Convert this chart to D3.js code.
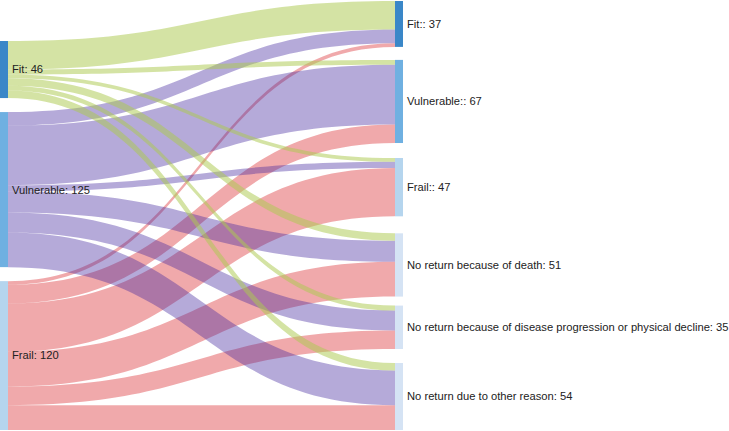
<!DOCTYPE html>
<html>
<head>
<meta charset="utf-8">
<script src="https://cdn.jsdelivr.net/npm/d3@7"></script>
<style>
  html, body { margin: 0; padding: 0; background: #fff; }
  svg { display: block; }
  text { font-family: "Liberation Sans", Arial, sans-serif; font-size: 11.2px; fill: #222; }
</style>
</head>
<body>
<svg id="chart" width="729" height="431"></svg>
<script>
// ---- data ----
const sourceNames = ["Fit", "Vulnerable", "Frail"];
const sourceTotals = [46, 125, 120];
const targetNames = ["Fit:", "Vulnerable:", "Frail:", "No return because of death",
  "No return because of disease progression or physical decline", "No return due to other reason"];
const targetTotals = [37, 67, 47, 51, 35, 54];
const fromFit = [23, 4, 3, 6, 4, 6];
const fromVulnerable = [11, 48, 5, 17, 16, 28];
const fromFrail = [3, 15, 39, 28, 15, 20];

// ---- styles / layout ----
const sourceNodeColors = ["#3a87c8", "#6fb0e1", "#b5d5ee"];
const targetNodeColors = ["#3a87c8", "#6fb0e1", "#b5d5ee", "#d5e3f4", "#d5e3f4", "#d5e3f4"];
const linkColors = ["rgba(172,202,80,0.52)", "rgba(70,42,160,0.4)", "rgba(218,40,45,0.4)"];
const gapsRight = [13, 15, 17, 9, 14];
const gapsLeft = [14, 14];

const nodeW = 8;
const leftX = 0, rightX = 395;
const yTop = 1, yBottom = 430;
const grand = d3.sum(sourceTotals);
const k = (yBottom - yTop - d3.sum(gapsRight)) / grand;
const h = d3.scaleLinear().domain([0, grand]).range([0, grand * k]);

const svg = d3.select("#chart");
const flows = [fromFit, fromVulnerable, fromFrail];

// node positions
const leftHeight = h(grand) + d3.sum(gapsLeft);
let yL = yBottom - leftHeight;
const leftNodes = sourceTotals.map((v, i) => { const n = {y0: yL, y1: yL + h(v), name: sourceNames[i], value: v, color: sourceNodeColors[i]}; yL = n.y1 + (gapsLeft[i] || 0); return n; });
let yR = yTop;
const rightNodes = targetTotals.map((v, i) => { const n = {y0: yR, y1: yR + h(v), name: targetNames[i], value: v, color: targetNodeColors[i]}; yR = n.y1 + (gapsRight[i] || 0); return n; });

// links
const links = [];
const rOffsets = rightNodes.map(n => n.y0);
flows.forEach((row, si) => {
  let sy = leftNodes[si].y0;
  row.forEach((v, ti) => {
    if (!v) return;
    const th = h(v);
    const l = {si, ti, v, sy0: sy, sy1: sy + th, ty0: rOffsets[ti], ty1: rOffsets[ti] + th};
    sy += th;
    rOffsets[ti] += th;
    links.push(l);
  });
});
const x0 = leftX + nodeW, x1 = rightX, xm = (x0 + x1) / 2;
function band(l) {
  const p = d3.path();
  p.moveTo(x0, l.sy0);
  p.bezierCurveTo(xm, l.sy0, xm, l.ty0, x1, l.ty0);
  p.lineTo(x1, l.ty1);
  p.bezierCurveTo(xm, l.ty1, xm, l.sy1, x0, l.sy1);
  p.closePath();
  return p.toString();
}
// draw Frail links first, Fit links last (on top)
const drawOrder = links.slice().sort((a, b) => b.si - a.si);
svg.append("g").selectAll("path").data(drawOrder).join("path")
  .attr("d", band)
  .attr("fill", d => linkColors[d.si]);

// nodes
svg.append("g").selectAll("rect").data(leftNodes).join("rect")
  .attr("x", leftX).attr("y", d => d.y0).attr("width", nodeW).attr("height", d => d.y1 - d.y0)
  .attr("fill", d => d.color);
svg.append("g").selectAll("rect").data(rightNodes).join("rect")
  .attr("x", rightX).attr("y", d => d.y0).attr("width", nodeW).attr("height", d => d.y1 - d.y0)
  .attr("fill", d => d.color);

// labels
svg.append("g").selectAll("text").data(leftNodes).join("text")
  .attr("x", 12).attr("y", d => (d.y0 + d.y1) / 2).attr("dy", "0.35em")
  .text(d => `${d.name}: ${d.value}`);
svg.append("g").selectAll("text").data(rightNodes).join("text")
  .attr("x", rightX + nodeW + 4).attr("y", d => (d.y0 + d.y1) / 2).attr("dy", "0.35em")
  .text(d => `${d.name}: ${d.value}`);
</script>
</body>
</html>
